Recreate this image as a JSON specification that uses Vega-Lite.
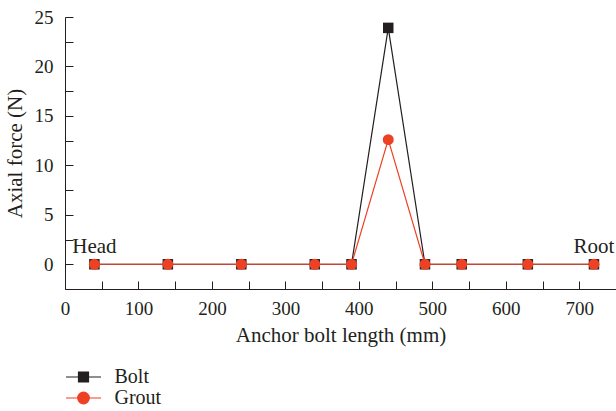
{
  "$schema": "https://vega.github.io/schema/vega-lite/v6.json",
  "width": 551,
  "height": 272,
  "autosize": "none",
  "padding": {"left": 65, "top": 17, "right": 0, "bottom": 122},
  "background": "white",
  "config": {
    "view": {"stroke": null},
    "font": "Liberation Serif, serif",
    "legend": {"labelFont": "Liberation Serif, serif", "titleFont": "Liberation Serif, serif"},
    "text": {"font": "Liberation Serif, serif"},
    "axis": {
      "labelFont": "Liberation Serif, serif",
      "titleFont": "Liberation Serif, serif",
      "labelFontSize": 19,
      "titleFontSize": 21,
      "titleFontWeight": "normal",
      "labelColor": "#231f20",
      "titleColor": "#231f20",
      "domainColor": "#231f20",
      "tickColor": "#231f20",
      "grid": false
    }
  },
  "datasets": {
    "series": [
      {"length": 40, "force": 0, "material": "Bolt"},
      {"length": 140, "force": 0, "material": "Bolt"},
      {"length": 240, "force": 0, "material": "Bolt"},
      {"length": 340, "force": 0, "material": "Bolt"},
      {"length": 390, "force": 0, "material": "Bolt"},
      {"length": 440, "force": 23.9, "material": "Bolt"},
      {"length": 490, "force": 0, "material": "Bolt"},
      {"length": 540, "force": 0, "material": "Bolt"},
      {"length": 630, "force": 0, "material": "Bolt"},
      {"length": 720, "force": 0, "material": "Bolt"},
      {"length": 40, "force": 0, "material": "Grout"},
      {"length": 140, "force": 0, "material": "Grout"},
      {"length": 240, "force": 0, "material": "Grout"},
      {"length": 340, "force": 0, "material": "Grout"},
      {"length": 390, "force": 0, "material": "Grout"},
      {"length": 440, "force": 12.6, "material": "Grout"},
      {"length": 490, "force": 0, "material": "Grout"},
      {"length": 540, "force": 0, "material": "Grout"},
      {"length": 630, "force": 0, "material": "Grout"},
      {"length": 720, "force": 0, "material": "Grout"}
    ],
    "notes": [
      {"length": 40, "force": 0.7, "label": "Head"},
      {"length": 720, "force": 0.7, "label": "Root"}
    ]
  },
  "encoding": {
    "x": {
      "field": "length", "type": "quantitative",
      "scale": {"domain": [0, 750], "nice": false, "zero": false},
      "axis": {
        "orient": "bottom",
        "values": [0, 50, 100, 150, 200, 250, 300, 350, 400, 450, 500, 550, 600, 650, 700],
        "labelExpr": "datum.value % 100 == 0 ? datum.label : ''",
        "tickSize": -8, "labelPadding": 18, "labelFlush": false,
        "title": "Anchor bolt length (mm)", "titlePadding": 6,
        "encode": {"ticks": {"update": {"y2": {"signal": "datum.value % 100 == 0 ? -8 : -4"}}}}
      }
    },
    "y": {
      "field": "force", "type": "quantitative",
      "scale": {"domain": [-2.5, 25], "nice": false, "zero": false},
      "axis": {
        "orient": "left",
        "values": [0, 2.5, 5, 7.5, 10, 12.5, 15, 17.5, 20, 22.5, 25],
        "labelExpr": "datum.value % 5 == 0 ? datum.label : ''",
        "tickSize": -8, "labelPadding": 20, "labelFlush": false,
        "title": "Axial force (N)", "titlePadding": 9,
        "encode": {"ticks": {"update": {"x2": {"signal": "datum.value % 5 == 0 ? 8 : 4"}}}}
      }
    }
  },
  "layer": [
    {
      "data": {"name": "series"},
      "mark": {"type": "line", "strokeWidth": 1.2},
      "encoding": {
        "color": {
          "field": "material", "type": "nominal",
          "scale": {"domain": ["Bolt", "Grout"], "range": ["#231f20", "#ee4023"]},
          "legend": {
            "orient": "none",
            "legendX": 7.5,
            "legendY": 349,
            "title": null,
            "labelFont": "Liberation Serif, serif",
            "labelFontSize": 20,
            "labelColor": "#231f20",
            "labelOffset": 20,
            "symbolSize": 400,
            "rowPadding": 0,
            "symbolStrokeWidth": 1.2,
            "encode": {
              "symbols": {
                "update": {
                  "shape": {"signal": "datum.value == 'Bolt' ? 'M-1.75,0L1.75,0M-0.5,-0.5L0.5,-0.5L0.5,0.5L-0.5,0.5Z' : 'M-1.75,0L1.75,0M-0.58,0A0.58,0.58 0 1,0 0.58,0A0.58,0.58 0 1,0 -0.58,0Z'"},
                  "fill": {"signal": "datum.value == 'Bolt' ? '#231f20' : '#ee4023'"},
                  "stroke": {"signal": "datum.value == 'Bolt' ? '#231f20' : '#ee4023'"},
                  "strokeWidth": {"value": 1.2}
                }
              }
            }
          }
        }
      }
    },
    {
      "data": {"name": "series"},
      "transform": [{"filter": "datum.material == 'Bolt'"}],
      "mark": {"type": "point", "shape": "square", "filled": true, "size": 110, "opacity": 1},
      "encoding": {
        "color": {"field": "material", "type": "nominal"}
      }
    },
    {
      "data": {"name": "series"},
      "transform": [{"filter": "datum.material == 'Grout'"}],
      "mark": {"type": "point", "shape": "circle", "filled": true, "size": 120, "opacity": 1},
      "encoding": {
        "color": {"field": "material", "type": "nominal"}
      }
    },
    {
      "data": {"name": "notes"},
      "mark": {"type": "text", "fontSize": 21, "color": "#231f20", "align": "center", "baseline": "bottom"},
      "encoding": {
        "text": {"field": "label", "type": "nominal"}
      }
    }
  ]
}
